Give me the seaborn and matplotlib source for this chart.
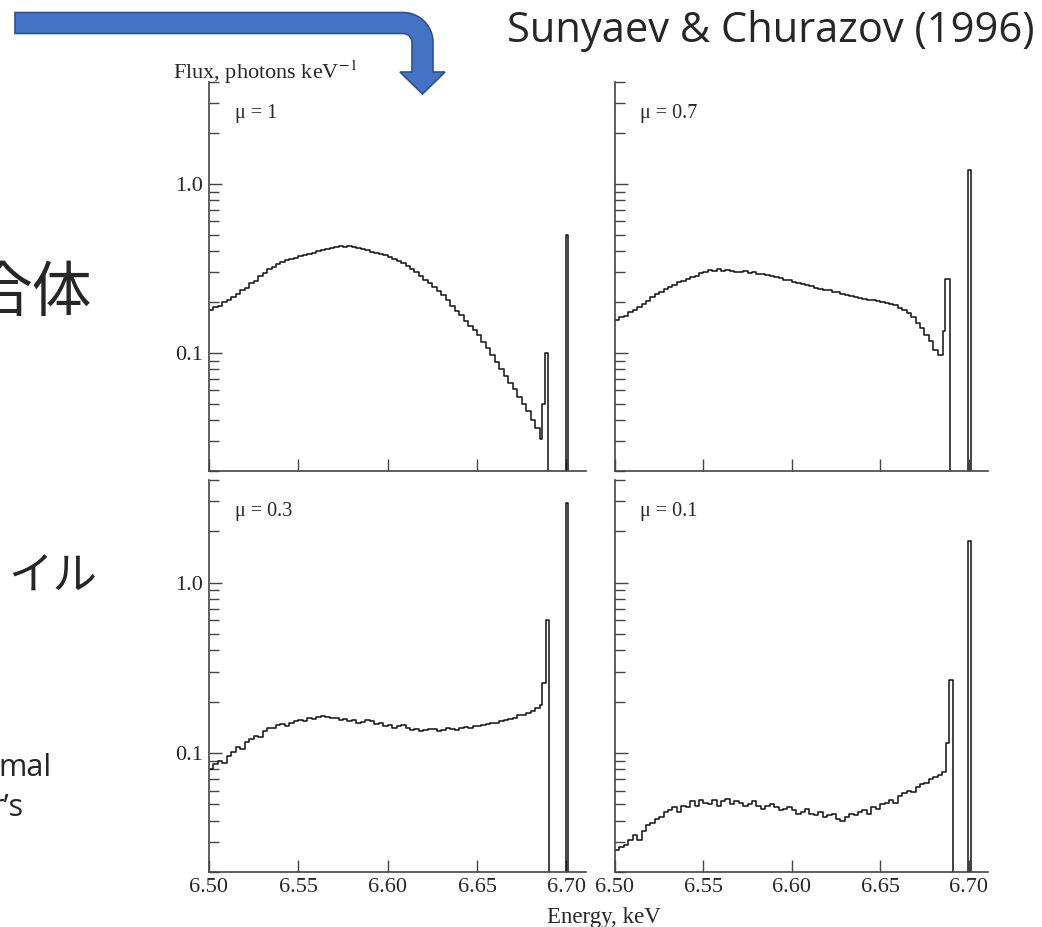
import numpy as np
import matplotlib
matplotlib.use("Agg")
import matplotlib.pyplot as plt
import seaborn as sns
from matplotlib.patches import Polygon
from matplotlib.ticker import LogLocator, NullFormatter

W, H = 1042, 927

# continuum bins, keV
energy = np.round(np.arange(6.500, 6.6851, 0.0025), 4)

flux_mu1 = [0.180, 0.186, 0.190, 0.199, 0.205, 0.214, 0.222, 0.236, 0.243, 0.258,
            0.265, 0.285, 0.298, 0.312, 0.322, 0.336, 0.343, 0.352, 0.360, 0.366,
            0.372, 0.380, 0.386, 0.392, 0.398, 0.404, 0.412, 0.418, 0.422, 0.428,
            0.425, 0.430, 0.420, 0.416, 0.410, 0.404, 0.396, 0.392, 0.384, 0.378,
            0.370, 0.361, 0.350, 0.338, 0.326, 0.312, 0.300, 0.284, 0.270, 0.258,
            0.245, 0.232, 0.220, 0.204, 0.190, 0.178, 0.167, 0.155, 0.145, 0.136,
            0.128, 0.116, 0.107, 0.097, 0.088, 0.080, 0.073, 0.066, 0.061, 0.055,
            0.050, 0.045, 0.040, 0.036, 0.031]
flux_mu07 = [0.157, 0.163, 0.166, 0.174, 0.180, 0.186, 0.195, 0.203, 0.213, 0.222,
             0.228, 0.240, 0.244, 0.252, 0.262, 0.266, 0.272, 0.280, 0.284, 0.296,
             0.300, 0.310, 0.306, 0.312, 0.304, 0.308, 0.306, 0.302, 0.300, 0.304,
             0.298, 0.300, 0.294, 0.292, 0.288, 0.283, 0.280, 0.276, 0.270, 0.268,
             0.264, 0.258, 0.255, 0.252, 0.248, 0.243, 0.240, 0.236, 0.234, 0.229,
             0.228, 0.223, 0.220, 0.216, 0.213, 0.210, 0.207, 0.206, 0.204, 0.202,
             0.200, 0.198, 0.195, 0.191, 0.185, 0.180, 0.172, 0.162, 0.150, 0.140,
             0.128, 0.117, 0.104, 0.097, 0.097]
flux_mu03 = [0.081, 0.086, 0.090, 0.087, 0.096, 0.101, 0.108, 0.105, 0.116, 0.121,
             0.126, 0.124, 0.135, 0.140, 0.141, 0.146, 0.147, 0.144, 0.150, 0.154,
             0.156, 0.153, 0.160, 0.158, 0.162, 0.164, 0.163, 0.160, 0.161, 0.156,
             0.158, 0.154, 0.155, 0.150, 0.152, 0.155, 0.153, 0.148, 0.150, 0.144,
             0.146, 0.140, 0.143, 0.145, 0.141, 0.137, 0.139, 0.135, 0.137, 0.139,
             0.138, 0.134, 0.137, 0.141, 0.139, 0.136, 0.140, 0.142, 0.141, 0.143,
             0.143, 0.146, 0.147, 0.149, 0.150, 0.153, 0.155, 0.158, 0.160, 0.166,
             0.168, 0.172, 0.176, 0.184, 0.190]
flux_mu01 = [0.027, 0.028, 0.029, 0.031, 0.033, 0.031, 0.035, 0.038, 0.039, 0.041,
             0.042, 0.045, 0.046, 0.048, 0.045, 0.049, 0.048, 0.052, 0.049, 0.053,
             0.051, 0.050, 0.053, 0.049, 0.052, 0.054, 0.050, 0.052, 0.051, 0.049,
             0.050, 0.052, 0.049, 0.047, 0.049, 0.050, 0.048, 0.046, 0.047, 0.048,
             0.046, 0.044, 0.045, 0.047, 0.044, 0.043, 0.045, 0.042, 0.043, 0.044,
             0.041, 0.040, 0.042, 0.044, 0.043, 0.045, 0.046, 0.044, 0.048, 0.047,
             0.050, 0.051, 0.053, 0.051, 0.056, 0.058, 0.060, 0.059, 0.063, 0.066,
             0.067, 0.070, 0.072, 0.074, 0.077]

# narrow line features after the continuum (1e-3 = empty bins, below the axis)
line_e_mu1 = [6.6864, 6.6878, 6.6895, 6.6996, 6.7012, 6.7110]
line_f_mu1 = [0.050, 0.100, 1e-3, 0.50, 1e-3, 1e-3]
line_e_mu07 = [6.6855, 6.6868, 6.6895, 6.6996, 6.7012, 6.7110]
line_f_mu07 = [0.134, 0.273, 1e-3, 1.21, 1e-3, 1e-3]
line_e_mu03 = [6.6865, 6.6885, 6.6905, 6.6996, 6.7012, 6.7110]
line_f_mu03 = [0.257, 0.600, 1e-3, 2.94, 1e-3, 1e-3]
line_e_mu01 = [6.6873, 6.6890, 6.6912, 6.6998, 6.7014, 6.7110]
line_f_mu01 = [0.115, 0.269, 1e-3, 1.75, 1e-3, 1e-3]

mu_labels = ["\u03bc = 1", "\u03bc = 0.7", "\u03bc = 0.3", "\u03bc = 0.1"]
x_ticks = [6.50, 6.55, 6.60, 6.65, 6.70]
x_ticklabels = ["6.50", "6.55", "6.60", "6.65", "6.70"]

sns.set_style("ticks")
plt.rcParams["font.family"] = ["Liberation Serif", "DejaVu Sans"]
plt.rcParams["mathtext.fontset"] = "stix"

fig = plt.figure(figsize=(W / 100, H / 100), dpi=100)


def px_axes(l, t, r, b):
    return fig.add_axes([l / W, 1 - b / H, (r - l) / W, (b - t) / H])


panels = [
    (px_axes(209, 82, 586, 471), flux_mu1, line_e_mu1, line_f_mu1, mu_labels[0], True, False),
    (px_axes(615, 82, 988, 471), flux_mu07, line_e_mu07, line_f_mu07, mu_labels[1], False, False),
    (px_axes(209, 480, 586, 872), flux_mu03, line_e_mu03, line_f_mu03, mu_labels[2], True, True),
    (px_axes(615, 480, 988, 872), flux_mu01, line_e_mu01, line_f_mu01, mu_labels[3], False, True),
]

for ax, flux, le, lf, lab, left, bottom in panels:
    x = np.concatenate([energy, le])
    y = np.concatenate([flux, lf])
    sns.lineplot(x=x, y=y, ax=ax, drawstyle="steps-post", color="#111111",
                 lw=1.1, estimator=None, sort=False)
    ax.set_yscale("log")
    ax.set_xlim(6.5, 6.711)
    ax.set_ylim(0.02, 4)
    ax.set_xlabel("")
    ax.set_ylabel("")
    for s in ["top", "right"]:
        ax.spines[s].set_visible(False)
    for s in ["left", "bottom"]:
        ax.spines[s].set_color("#444444")
        ax.spines[s].set_linewidth(1.2)
    ax.set_xticks(x_ticks)
    ax.set_xticklabels(x_ticklabels)
    ax.set_yticks([0.1, 1.0])
    ax.set_yticklabels(["0.1", "1.0"])
    ax.yaxis.set_minor_locator(LogLocator(base=10, subs=np.arange(2, 10) * 1.0, numticks=20))
    ax.yaxis.set_minor_formatter(NullFormatter())
    ax.tick_params(which="both", direction="in", color="#444444", width=1.0,
                   labelsize=16, pad=4, top=False, right=False)
    ax.tick_params(which="major", length=9)
    ax.tick_params(which="minor", length=7)
    ax.tick_params(labelleft=left, labelbottom=bottom)
    ax.text(0.068, 0.92, lab, transform=ax.transAxes, fontsize=14.5, va="center")


def ftext(x, y, s, **kw):
    fig.text(x / W, 1 - y / H, s, **kw)


ftext(173, 72, "Flux, photons keV$^{-1}$", fontsize=16, va="center")
ftext(547, 918, "Energy, keV", fontsize=16.5, va="center")
ftext(507, 31, "Sunyaev & Churazov (1996)", fontsize=30, va="center",
      family=["Open Sans", "DejaVu Sans"])

# cut-off slide text on the left
ftext(92, 295, "合体", fontsize=43, va="center", ha="right",
      family=["Noto Sans CJK JP", "DejaVu Sans"])
ftext(97, 577, "イル", fontsize=32, va="center", ha="right",
      family=["Noto Sans CJK JP", "DejaVu Sans"])
ftext(-2, 768, "mal", fontsize=22, va="center", family=["Open Sans", "DejaVu Sans"])
ftext(-9, 808, "r\u2019s", fontsize=22, va="center", family=["Open Sans", "DejaVu Sans"])

# bent blue arrow
t_out = np.linspace(np.pi / 2, 0, 20)
t_in = np.linspace(0, np.pi / 2, 20)
cx, cy = 403, 42.5
pts = [(15, 12.5)]
pts += [(cx + 30 * np.cos(t), cy - 30 * np.sin(t)) for t in t_out]
pts += [(433, 72), (445, 72), (422.5, 94), (400, 72), (412, 72)]
pts += [(cx + 9 * np.cos(t), cy - 9 * np.sin(t)) for t in t_in]
pts += [(15, 33.5)]
pts = [(px / W, 1 - py / H) for px, py in pts]
fig.patches.append(Polygon(pts, closed=True, transform=fig.transFigure,
                           facecolor="#4472C4", edgecolor="#2F528F", lw=1.2))

fig.savefig("out.png", dpi=100)
